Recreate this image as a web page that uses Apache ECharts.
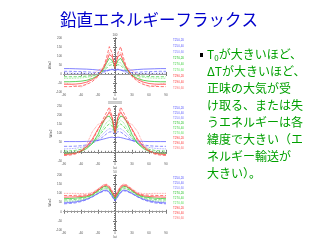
<!DOCTYPE html>
<html><head><meta charset="utf-8">
<script src="https://cdn.jsdelivr.net/npm/echarts@6/dist/echarts.min.js"></script>
<style>html,body{margin:0;padding:0;background:#fff}#c{width:320px;height:240px}</style>
</head><body><div id="c"></div>
<script>
// ---- data ----
const lat = [-90,-80,-70,-60,-50,-40,-30,-20,-15,-10,-5,0,5,10,15,20,30,40,50,60,70,80,90];
const seriesNames = ['T250,20','T250,40','T250,60','T270,20','T270,40','T270,60','T290,20','T290,40','T290,60'];
const plotTitles = ['100', 'XXXXXXX', '50'];
const yName = 'W/m2';
const xName = 'lat';

// plot 1
const p1_b1 = [30,30,29,28,27,25,22,20,20,22,24,22,24,22,20,20,22,25,27,28,29,30,30];
const p1_b2 = [15,15,14,13,12,10,8,12,16,22,26,20,26,22,16,12,8,10,12,13,14,15,15];
const p1_b3 = [5,5,4,3,2,1,0,8,14,22,28,20,28,22,14,8,0,1,2,3,4,5,5];
const p1_g1 = [-43,-43,-42,-40,-35,-25,-8,30,60,87,75,40,75,87,60,30,-8,-25,-35,-40,-42,-43,-43];
const p1_g2 = [-15,-15,-15,-14,-12,-8,-2,18,32,48,52,38,52,48,32,18,-2,-8,-12,-14,-15,-15,-15];
const p1_g3 = [-24,-24,-23,-22,-19,-13,-4,24,42,62,66,45,66,62,42,24,-4,-13,-19,-22,-23,-24,-24];
const p1_r1 = [-57,-57,-56,-53,-45,-32,-10,35,70,108,95,45,95,108,70,35,-10,-32,-45,-53,-56,-57,-57];
const p1_r2 = [-70,-70,-69,-66,-58,-42,-14,40,90,152,115,32,115,152,90,40,-14,-42,-58,-66,-69,-70,-70];
const p1_r3 = [-50,-55,-65,-72,-55,-5,20,38,70,120,100,40,100,120,70,38,20,-5,-55,-72,-65,-55,-50];
// plot 2
const p2_b1 = [56,56,56,56,57,58,62,70,74,78,80,76,80,78,74,70,62,58,57,56,56,56,56];
const p2_b2 = [30,30,31,33,38,48,62,85,98,108,110,95,110,108,98,85,62,48,38,33,31,30,30];
const p2_b3 = [16,17,19,24,32,48,70,100,116,126,124,100,124,126,116,100,70,48,32,24,19,17,16];
const p2_g1 = [-10,-9,-6,2,18,45,95,168,190,195,170,103,170,195,190,168,95,45,18,2,-6,-9,-10];
const p2_g2 = [4,5,8,14,25,45,78,120,140,152,140,103,140,152,140,120,78,45,25,14,8,5,4];
const p2_g3 = [-5,-4,-1,6,20,45,85,135,160,172,155,103,155,172,160,135,85,45,20,6,-1,-4,-5];
const p2_r1 = [-15,-13,-8,5,30,70,125,170,195,215,185,110,185,215,195,170,125,70,30,5,-8,-13,-15];
const p2_r2 = [-20,-18,-12,0,25,60,120,185,215,244,190,103,190,244,215,185,120,60,25,0,-12,-18,-20];
const p2_r3 = [-12,-10,-5,8,40,110,150,160,185,225,200,120,200,225,185,160,150,110,40,8,-5,-10,-12];
// plot 3
const p3_b1 = [48,50,53,59,68,82,100,116,118,108,86,62,86,108,118,116,100,82,68,59,53,50,48];
const p3_b2 = [43,45,48,55,65,80,98,112,114,104,82,58,82,104,114,112,98,80,65,55,48,45,43];
const p3_b3 = [52,54,57,62,70,83,100,115,116,106,84,60,84,106,116,115,100,83,70,62,57,54,52];
const p3_g1 = [71,72,74,77,82,92,115,136,138,126,98,70,98,126,138,136,115,92,82,77,74,72,71];
const p3_g2 = [64,65,67,71,78,90,110,128,130,120,95,72,95,120,130,128,110,90,78,71,67,65,64];
const p3_g3 = [57,58,60,65,73,86,106,124,126,116,92,68,92,116,126,124,106,86,73,65,60,58,57];
const p3_r1 = [79,80,81,83,87,96,118,140,143,132,105,78,105,132,143,140,118,96,87,83,81,80,79];
const p3_r2 = [88,88,89,90,92,100,122,145,148,138,112,82,112,138,148,145,122,100,92,90,89,88,88];
const p3_r3 = [100,100,100,99,98,105,125,148,150,140,115,88,115,140,150,148,125,105,98,99,100,100,100];

const plots = [
  [p1_b1,p1_b2,p1_b3,p1_g1,p1_g2,p1_g3,p1_r1,p1_r2,p1_r3],
  [p2_b1,p2_b2,p2_b3,p2_g1,p2_g2,p2_g3,p2_r1,p2_r2,p2_r3],
  [p3_b1,p3_b2,p3_b3,p3_g1,p3_g2,p3_g3,p3_r1,p3_r2,p3_r3]
];
const yRanges = [[-100,200],[-50,250],[-100,200]];

// ---- styles ----
const colors = ['#5050ff','#6060ff','#7a7aff','#20c020','#40d040','#60e060','#ff3030','#ff4040','#ff7070'];
const dashes = ['solid','dashed','dotted','solid','dashed','dotted','solid','dashed','dotted'];
const grids = [
  {left:64, top:38, width:102, height:54},
  {left:64, top:106, width:102, height:55},
  {left:64, top:175, width:102, height:56}
];
const frame = '#777';
const xAxis = [], yAxis = [], series = [], legend = [], title = [];
const legendTops = [39, 107, 177];
const legendGaps = [3, 2, 2];
grids.forEach((g, i) => {
  g.show = false;
  const common = {
    gridIndex: i, type: 'value',
    axisLine: {show: true, lineStyle: {color: frame, width: 1}},
    axisTick: {show: true, inside: true, length: 2, lineStyle: {color: frame}},
    minorTick: {show: true, splitNumber: 5, length: 1, lineStyle: {color: frame}},
    splitLine: {show: false}
  };
  xAxis.push(Object.assign({}, common, {
    min: -90, max: 90, interval: 30, position: 'bottom',
    axisLabel: {fontSize: 3, color: '#555', margin: 2},
    name: xName, nameLocation: 'middle', nameGap: 5, nameTextStyle: {fontSize: 3, color: '#555'}
  }));
  xAxis.push(Object.assign({}, common, {
    min: -90, max: 90, interval: 30, position: 'top', axisLabel: {show: false}
  }));
  yAxis.push(Object.assign({}, common, {
    min: yRanges[i][0], max: yRanges[i][1], interval: 50, position: 'left',
    axisLabel: {fontSize: 3, color: '#555', margin: 2},
    name: yName, nameLocation: 'middle', nameGap: 7, nameRotate: 90,
    nameTextStyle: {fontSize: 3, color: '#555'}
  }));
  yAxis.push(Object.assign({}, common, {
    min: yRanges[i][0], max: yRanges[i][1], interval: 50, position: 'right', axisLabel: {show: false}
  }));
  plots[i].forEach((vals, k) => {
    const s = {
      type: 'line', name: seriesNames[k], xAxisIndex: i*2, yAxisIndex: i*2,
      data: lat.map((x, j) => [x, vals[j]]), symbol: 'none', silent: true,
      lineStyle: {color: colors[k], width: 0.8, type: dashes[k], opacity: 0.9},
      itemStyle: {color: colors[k]}
    };
    if (k === 0) {
      s.markLine = {silent: true, symbol: 'none', label: {show: false},
        lineStyle: {color: '#999', width: 1, type: i === 1 ? 'dotted' : 'solid'},
        data: [{yAxis: 0}]};
    }
    series.push(s);
  });
  legend.push({
    orient: 'vertical', left: 168, top: legendTops[i], itemWidth: 0, itemHeight: 3,
    itemGap: legendGaps[i], padding: 0, selectedMode: false,
    textStyle: {fontSize: 3, lineHeight: 3, padding: 0},
    data: seriesNames.map((n, k) => ({name: n, icon: 'rect', itemStyle:{color: colors[k]}, textStyle: {color: colors[k]}}))
  });
  title.push({
    text: plotTitles[i], left: 115, top: g.top - 4, textAlign: 'center', padding: 0,
    textStyle: {fontSize: 3, color: '#555', fontWeight: 'normal'}
  });
});

const green = '#00a000';
const lineTexts = ['{t|T}{s|0}{t|が大きいほど、}', 'ΔTが大きいほど、', '正味の大気が受', 'け取る、または失',
  'うエネルギーは各', '緯度で大きい（エ', 'ネルギー輸送が', '大きい）。'];
const graphic = [
  {type: 'text', left: 60, top: 11, style: {text: '鉛直エネルギーフラックス', fill: '#0000cc',
    font: '16.5px "Noto Sans CJK JP"'}},
  {type: 'rect', left: 200, top: 53, shape: {width: 3, height: 4}, style: {fill: '#000'}}
];
lineTexts.forEach((t, i) => {
  graphic.push({type: 'text', left: 207, top: 48 + i*17.1, style: {
    text: t, fill: green, font: '12px "Noto Sans CJK JP"',
    rich: {t: {fontSize: 12, fontFamily: 'Noto Sans CJK JP', fill: green, lineHeight: 15},
           s: {fontSize: 8, fontFamily: 'Noto Sans CJK JP', fill: green, lineHeight: 15, verticalAlign: 'bottom', padding: [6,0,0,0]}}
  }});
});

const chart = echarts.init(document.getElementById('c'), null, {renderer: 'canvas'});
chart.setOption({
  animation: false, backgroundColor: '#fff',
  grid: grids, xAxis, yAxis, series, legend, title, graphic
});
</script></body></html>
